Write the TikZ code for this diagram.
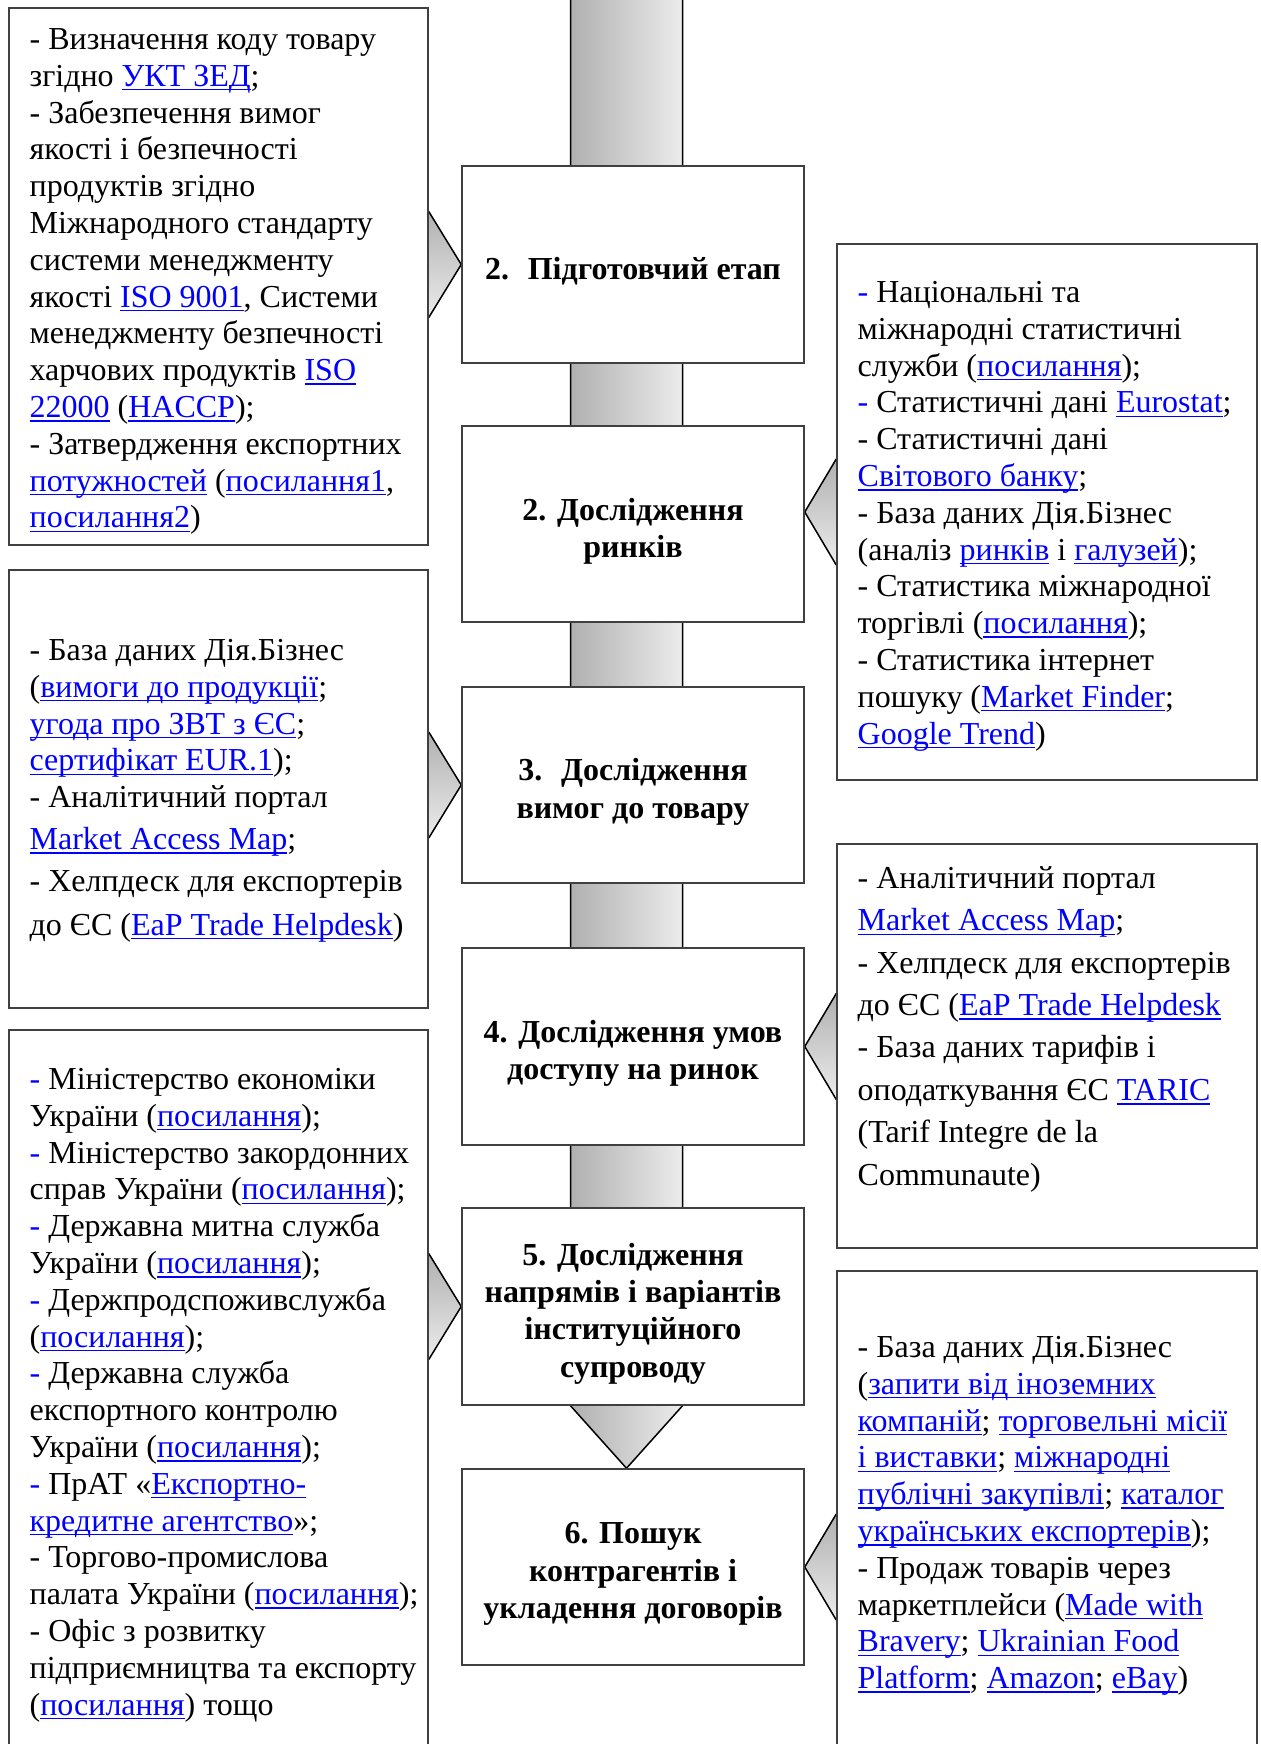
\documentclass[tikz,border=0pt]{standalone}
\usepackage{fontspec}
\setmainfont{Liberation Serif}
\usetikzlibrary{fit,calc,backgrounds}
\definecolor{linkblue}{RGB}{0,0,255}
\definecolor{framegray}{RGB}{64,64,64}
\definecolor{bardark}{RGB}{176,176,176}
\definecolor{barlight}{RGB}{236,236,236}
\newsavebox{\lnkbox}
\newcommand{\lnk}[1]{{\color{linkblue}\sbox{\lnkbox}{#1}\rlap{\rule[-2.1pt]{\wd\lnkbox}{0.7pt}}\usebox{\lnkbox}}}
\newcommand{\bdash}{\textcolor{linkblue}{-}}
\tikzset{
  srcbox/.style={draw=framegray, line width=0.75pt, fill=white, inner sep=0pt},
  stepbox/.style={draw=framegray, line width=0.75pt, fill=white, inner sep=0pt},
  steptext/.style={align=center, inner sep=0pt, yshift=-3.5pt, font=\fontsize{16}{18.7}\selectfont\bfseries},
  srctext/.style={anchor=north west, align=left, inner sep=0pt, font=\fontsize{16}{18.4}\selectfont},
  wedge/.style={draw=black, line width=0.75pt, top color=bardark, bottom color=barlight},
  bar/.style={draw=black, line width=0.75pt, left color=bardark, right color=barlight}
}
\begin{document}
\begin{tikzpicture}[x=0.5pt, y=-0.5pt]
\useasboundingbox (0,0) rectangle (1260,1744);
\node[stepbox, fit={(462,166) (804,363)}] (st1) {};
\node[stepbox, fit={(462,426) (804,622)}] (st2) {};
\node[stepbox, fit={(462,687) (804,883)}] (st3) {};
\node[stepbox, fit={(462,948) (804,1145)}] (st4) {};
\node[stepbox, fit={(462,1208) (804,1405)}] (st5) {};
\node[stepbox, fit={(462,1469) (804,1665)}] (st6) {};
\node[steptext] (ttl1) at (st1) {2.~ Підготовчий етап};
\node[steptext] (ttl2) at (st2) {2. Дослідження\\ринків};
\node[steptext] (ttl3) at (st3) {3.~ Дослідження\\вимог до товару};
\node[steptext] (ttl4) at (st4) {4. Дослідження умов\\доступу на ринок};
\node[steptext] (ttl5) at (st5) {5. Дослідження\\напрямів і варіантів\\інституційного\\супроводу};
\node[steptext] (ttl6) at (st6) {6. Пошук\\контрагентів і\\укладення договорів};
\node[srcbox, fit={(9,8) (428,545)}] (src1) {};
\node[srcbox, fit={(837,244) (1257,780)}] (src2) {};
\node[srcbox, fit={(9,570) (428,1008)}] (src3) {};
\node[srcbox, fit={(837,844) (1257,1248)}] (src4) {};
\node[srcbox, fit={(9,1030) (428,1790)}] (src5) {};
\node[srcbox, fit={(837,1271) (1257,1790)}] (src6) {};
\node[srctext] (txt1) at ([shift={(21,16)}]src1.north west) {\strut- Визначення коду товару\\
згідно \lnk{УКТ ЗЕД};\\
- Забезпечення вимог\\
якості і безпечності\\
продуктів згідно\\
Міжнародного стандарту\\
системи менеджменту\\
якості \lnk{ISO 9001}, Системи\\
менеджменту безпечності\\
харчових продуктів \lnk{ISO}\\
\lnk{22000} (\lnk{HACCP});\\
- Затвердження експортних\\
\lnk{потужностей} (\lnk{посилання1},\\
\lnk{посилання2})};
\node[srctext] (txt2) at ([shift={(21,33)}]src2.north west) {\strut\bdash{} Національні та\\
міжнародні статистичні\\
служби (\lnk{посилання});\\
\bdash{} Статистичні дані \lnk{Eurostat};\\
- Статистичні дані\\
\lnk{Світового банку};\\
- База даних Дія.Бізнес\\
(аналіз \lnk{ринків} і \lnk{галузей});\\
- Статистика міжнародної\\
торгівлі (\lnk{посилання});\\
- Статистика інтернет\\
пошуку (\lnk{Market Finder};\\
\lnk{Google Trend})};
\node[srctext] (txt3) at ([shift={(21,65)}]src3.north west) {\strut- База даних Дія.Бізнес\\
(\lnk{вимоги до продукції};\\
\lnk{угода про ЗВТ з ЄС};\\
\lnk{сертифікат EUR.1});\\
- Аналітичний портал\\[2.5pt]
\lnk{Market Access Map};\\[2.5pt]
- Хелпдеск для експортерів\\[3.5pt]
до ЄС (\lnk{EaP Trade Helpdesk})};
\node[srctext, font=\fontsize{16}{21.2}\selectfont] (txt4) at ([shift={(21,15)}]src4.north west) {\strut- Аналітичний портал\\
\lnk{Market Access Map};\\
- Хелпдеск для експортерів\\
до ЄС (\lnk{EaP Trade Helpdesk}\\
- База даних тарифів і\\
оподаткування ЄС \lnk{TARIC}\\
(Tarif Integre de la\\
Communaute)};
\node[srctext] (txt5) at ([shift={(21,34)}]src5.north west) {\strut\bdash{} Міністерство економіки\\
України (\lnk{посилання});\\
\bdash{} Міністерство закордонних\\
справ України (\lnk{посилання});\\
\bdash{} Державна митна служба\\
України (\lnk{посилання});\\
\bdash{} Держпродспоживслужба\\
(\lnk{посилання});\\
\bdash{} Державна служба\\
експортного контролю\\
України (\lnk{посилання});\\
\bdash{} ПрАТ «\lnk{Експортно-}\\
\lnk{кредитне агентство}»;\\
- Торгово-промислова\\
палата України (\lnk{посилання});\\
- Офіс з розвитку\\
підприємництва та експорту\\
(\lnk{посилання}) тощо};
\node[srctext] (txt6) at ([shift={(21,61)}]src6.north west) {\strut- База даних Дія.Бізнес\\
(\lnk{запити від іноземних}\\
\lnk{компаній}; \lnk{торговельні місії}\\
\lnk{і виставки}; \lnk{міжнародні}\\
\lnk{публічні закупівлі}; \lnk{каталог}\\
\lnk{українських експортерів});\\
- Продаж товарів через\\
маркетплейси (\lnk{Made with}\\
\lnk{Bravery}; \lnk{Ukrainian Food}\\
\lnk{Platform}; \lnk{Amazon}; \lnk{eBay})};
\coordinate (bartop) at (626.5,-10);
\begin{scope}[on background layer]
\path[bar] ($(bartop)+(-56,0)$) -- ($(bartop |- st5.south)+(-56,0)$) -- (bartop |- st6.north) -- ($(bartop |- st5.south)+(56,0)$) -- ($(bartop)+(56,0)$);
\path[wedge] ($(src1.east |- st1.west)+(0,-53)$) -- (st1.west) -- ($(src1.east |- st1.west)+(0,53)$);
\path[wedge] ($(src2.west)+(0,-53)$) -- (st2.east |- src2.west) -- ($(src2.west)+(0,53)$);
\path[wedge] ($(src3.east |- st3.west)+(0,-53)$) -- (st3.west) -- ($(src3.east |- st3.west)+(0,53)$);
\path[wedge] ($(src4.west |- st4.east)+(0,-53)$) -- (st4.east) -- ($(src4.west |- st4.east)+(0,53)$);
\path[wedge] ($(src5.east |- st5.west)+(0,-53)$) -- (st5.west) -- ($(src5.east |- st5.west)+(0,53)$);
\path[wedge] ($(src6.west |- st6.east)+(0,-53)$) -- (st6.east) -- ($(src6.west |- st6.east)+(0,53)$);
\end{scope}
\end{tikzpicture}
\end{document}
